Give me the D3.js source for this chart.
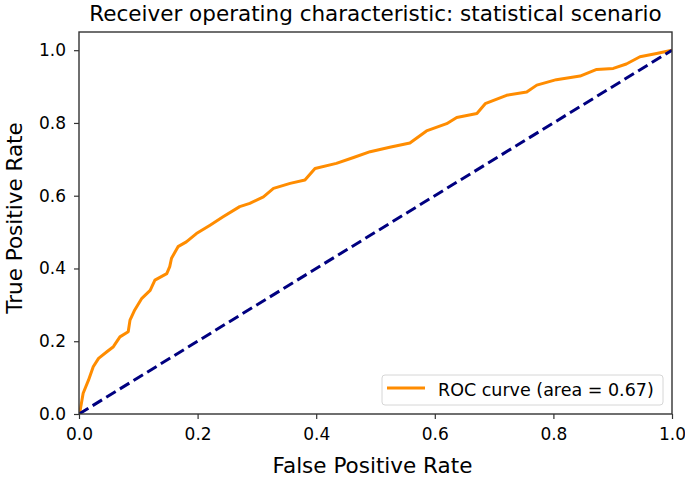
<!DOCTYPE html>
<html>
<head>
<meta charset="utf-8">
<script src="https://cdn.jsdelivr.net/npm/d3@7"></script>
<style>
  body { margin: 0; background: #fff; }
  text { font-family: "DejaVu Sans", sans-serif; fill: #000; }
</style>
</head>
<body>
<div id="chart"></div>
<script>
// ROC curve points
var fpr = [0, 0.002, 0.007, 0.016, 0.024, 0.033, 0.047, 0.058, 0.069, 0.083, 0.086, 0.094, 0.106, 0.12, 0.128,
    0.148, 0.153, 0.156, 0.167, 0.181, 0.198, 0.221, 0.243, 0.271, 0.288, 0.311, 0.328, 0.356, 0.381, 0.398,
    0.434, 0.463, 0.491, 0.524, 0.558, 0.586, 0.62, 0.637, 0.671, 0.685, 0.721, 0.755, 0.772, 0.805, 0.845,
    0.873, 0.901, 0.923, 0.946, 0.974, 1.0];
var tpr = [0, 0.01, 0.057, 0.093, 0.13, 0.153, 0.171, 0.185, 0.212, 0.226, 0.258, 0.286, 0.318, 0.34, 0.368,
    0.386, 0.405, 0.428, 0.46, 0.473, 0.496, 0.519, 0.542, 0.57, 0.579, 0.597, 0.62, 0.634, 0.643, 0.675,
    0.689, 0.705, 0.721, 0.733, 0.745, 0.778, 0.798, 0.815, 0.826, 0.853, 0.876, 0.885, 0.904, 0.919, 0.929,
    0.947, 0.95, 0.962, 0.982, 0.991, 1.0];
var chanceX = [0, 1];
var chanceY = [0, 1];
var xTicks = [0, 0.2, 0.4, 0.6, 0.8, 1.0];
var yTicks = [0, 0.2, 0.4, 0.6, 0.8, 1.0];
var rocArea = 0.67;

var width = 685, height = 478;
var margin = {left: 79, right: 13, top: 32, bottom: 64};

var svg = d3.select("#chart").append("svg")
    .attr("width", width)
    .attr("height", height);

var xScale = d3.scaleLinear().domain([0, 1]).range([margin.left, width - margin.right]);
var yScale = d3.scaleLinear().domain([0, 1.05]).range([height - margin.bottom, margin.top]);

var rocData = fpr.map(function (d, i) { return {x: d, y: tpr[i]}; });
var chanceData = chanceX.map(function (d, i) { return {x: d, y: chanceY[i]}; });

var line = d3.line()
    .x(function (d) { return xScale(d.x); })
    .y(function (d) { return yScale(d.y); });

svg.append("clipPath").attr("id", "plotclip")
    .append("rect")
    .attr("x", margin.left).attr("y", margin.top)
    .attr("width", width - margin.left - margin.right)
    .attr("height", height - margin.top - margin.bottom);

var plot = svg.append("g").attr("clip-path", "url(#plotclip)");

plot.append("path")
    .datum(rocData)
    .attr("d", line)
    .attr("fill", "none")
    .attr("stroke", "#ff8c00")
    .attr("stroke-width", 3)
    .attr("stroke-linejoin", "round");

plot.append("path")
    .datum(chanceData)
    .attr("d", line)
    .attr("fill", "none")
    .attr("stroke", "#000080")
    .attr("stroke-width", 3)
    .attr("stroke-dasharray", "11,5");

// axes
svg.append("g")
    .attr("transform", "translate(0," + (height - margin.bottom) + ")")
    .call(d3.axisBottom(xScale).tickValues(xTicks).tickFormat(d3.format(".1f")).tickSize(5).tickPadding(9));
svg.append("g")
    .attr("transform", "translate(" + margin.left + ",0)")
    .call(d3.axisLeft(yScale).tickValues(yTicks).tickFormat(d3.format(".1f")).tickSize(5).tickPadding(8));

svg.selectAll(".domain").remove();
svg.selectAll(".tick line").attr("stroke", "#333").attr("stroke-width", 1.2);
svg.selectAll(".tick text").style("font-size", "17px").style("font-family", "DejaVu Sans").attr("fill", "#000");

// frame
svg.append("rect")
    .attr("x", margin.left).attr("y", margin.top)
    .attr("width", width - margin.left - margin.right)
    .attr("height", height - margin.top - margin.bottom)
    .attr("fill", "none")
    .attr("stroke", "#333")
    .attr("stroke-width", 1.4);

// title and labels
var cx = (margin.left + width - margin.right) / 2;
svg.append("text")
    .attr("x", cx).attr("y", 21)
    .attr("text-anchor", "middle")
    .style("font-size", "21.5px")
    .text("Receiver operating characteristic: statistical scenario");

svg.append("text")
    .attr("x", cx - 3).attr("y", 473)
    .attr("text-anchor", "middle")
    .style("font-size", "21.5px")
    .text("False Positive Rate");

svg.append("text")
    .attr("transform", "translate(22,218) rotate(-90)")
    .attr("text-anchor", "middle")
    .style("font-size", "21.5px")
    .text("True Positive Rate");

// legend
var lg = svg.append("g");
lg.append("rect")
    .attr("x", 382).attr("y", 375)
    .attr("width", 281).attr("height", 30)
    .attr("rx", 3)
    .attr("fill", "#fff")
    .attr("fill-opacity", 0.8)
    .attr("stroke", "#d6d6d6");
lg.append("line")
    .attr("x1", 387).attr("x2", 425)
    .attr("y1", 388).attr("y2", 388)
    .attr("stroke", "#ff8c00")
    .attr("stroke-width", 3);
lg.append("text")
    .attr("x", 438).attr("y", 396)
    .style("font-size", "17.5px")
    .text("ROC curve (area = " + rocArea.toFixed(2) + ")");
</script>
</body>
</html>
